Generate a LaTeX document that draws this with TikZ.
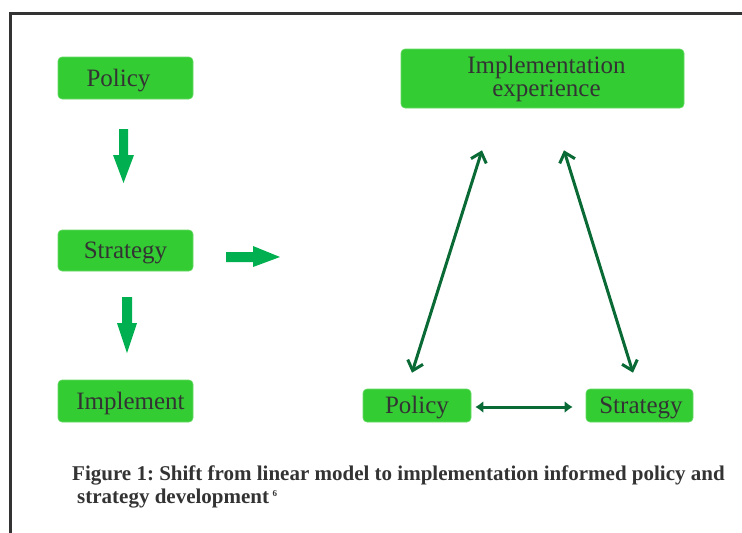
\documentclass[tikz,border=0pt]{standalone}
\usepackage{fontspec}
\setmainfont{Liberation Serif}
\usetikzlibrary{arrows.meta}
\definecolor{boxgreen}{HTML}{33CC33}
\definecolor{fatgreen}{HTML}{00B050}
\definecolor{linegreen}{HTML}{0A6A35}
\definecolor{txt}{HTML}{333333}
\frenchspacing
\begin{document}
\begin{tikzpicture}[x=1pt,y=-1pt,
  gbox/.style={fill=boxgreen, draw=boxgreen!75!white, line width=0.6pt, rounded corners=4pt,
    text=txt, font=\fontsize{25}{23}\selectfont, inner sep=0pt},
  onel/.style={text height=19pt, text depth=3pt},
  fat/.style={fill=fatgreen, draw=none},
  dline/.style={draw=linegreen, line width=3pt,
    {Straight Barb[length=9pt,width=16pt]}-{Straight Barb[length=9pt,width=16pt]}},
  hline/.style={draw=linegreen, line width=3pt,
    {Latex[length=8pt,width=12pt]}-{Latex[length=8pt,width=12pt]}},
  captxt/.style={anchor=base west, text=txt, inner sep=0pt, font=\fontsize{21}{23}\selectfont\bfseries}]
\useasboundingbox (0,0) rectangle (742,533);
% frame
\draw[line width=3pt, draw=black!80] (10.5,533) -- (10.5,13.5) -- (742,13.5);
% left column
\node[gbox, onel, minimum width=135pt, minimum height=42pt] (pol1) at (125.5,78) {\hspace*{-14pt}Policy};
\node[gbox, onel, minimum width=135pt, minimum height=41pt] (str1) at (125.5,250.5) {Strategy};
\node[gbox, onel, minimum width=135pt, minimum height=42pt] (imp1) at (125.5,401) {\hspace*{10pt}Implement};
% block arrows
\fill[fat] (119,129) -- (128,129) -- (128,155) -- (134,155) -- (123.5,183) -- (113,155) -- (119,155) -- cycle;
\fill[fat] (122,297) -- (132,297) -- (132,323) -- (137,323) -- (127,353) -- (117,323) -- (122,323) -- cycle;
\fill[fat] (226,252) -- (253,252) -- (253,246) -- (280,257) -- (253,267) -- (253,262) -- (226,262) -- cycle;
% right side
\node[gbox, minimum width=283pt, minimum height=59pt, align=center] (impexp) at (542.5,78.5)
  {\hspace*{8pt}Implementation\\\hspace*{8pt}experience};
\node[gbox, onel, minimum width=108pt, minimum height=33pt] (pol2) at (417,405.5) {Policy};
\node[gbox, onel, minimum width=107pt, minimum height=33pt] (str2) at (639.5,405.5) {\hspace*{3pt}Strategy};
% connectors
\draw[dline] ([shift={(-5,-16)}]pol2.north) -- ([shift={(-60.5,42)}]impexp.south);
\draw[dline] ([shift={(21.5,42)}]impexp.south) -- ([shift={(-6.5,-16)}]str2.north);
\draw[hline] ([shift={(4,1.5)}]pol2.east) -- ([shift={(-13,1.5)}]str2.west);
% caption
\node[captxt] (cap1) at (72,480) {Figure 1: Shift from linear model to implementation informed policy and};
\node[captxt] (cap2) at (77,503) {strategy development\,\raisebox{7pt}{\fontsize{9}{9}\selectfont 6}};
\end{tikzpicture}
\end{document}
